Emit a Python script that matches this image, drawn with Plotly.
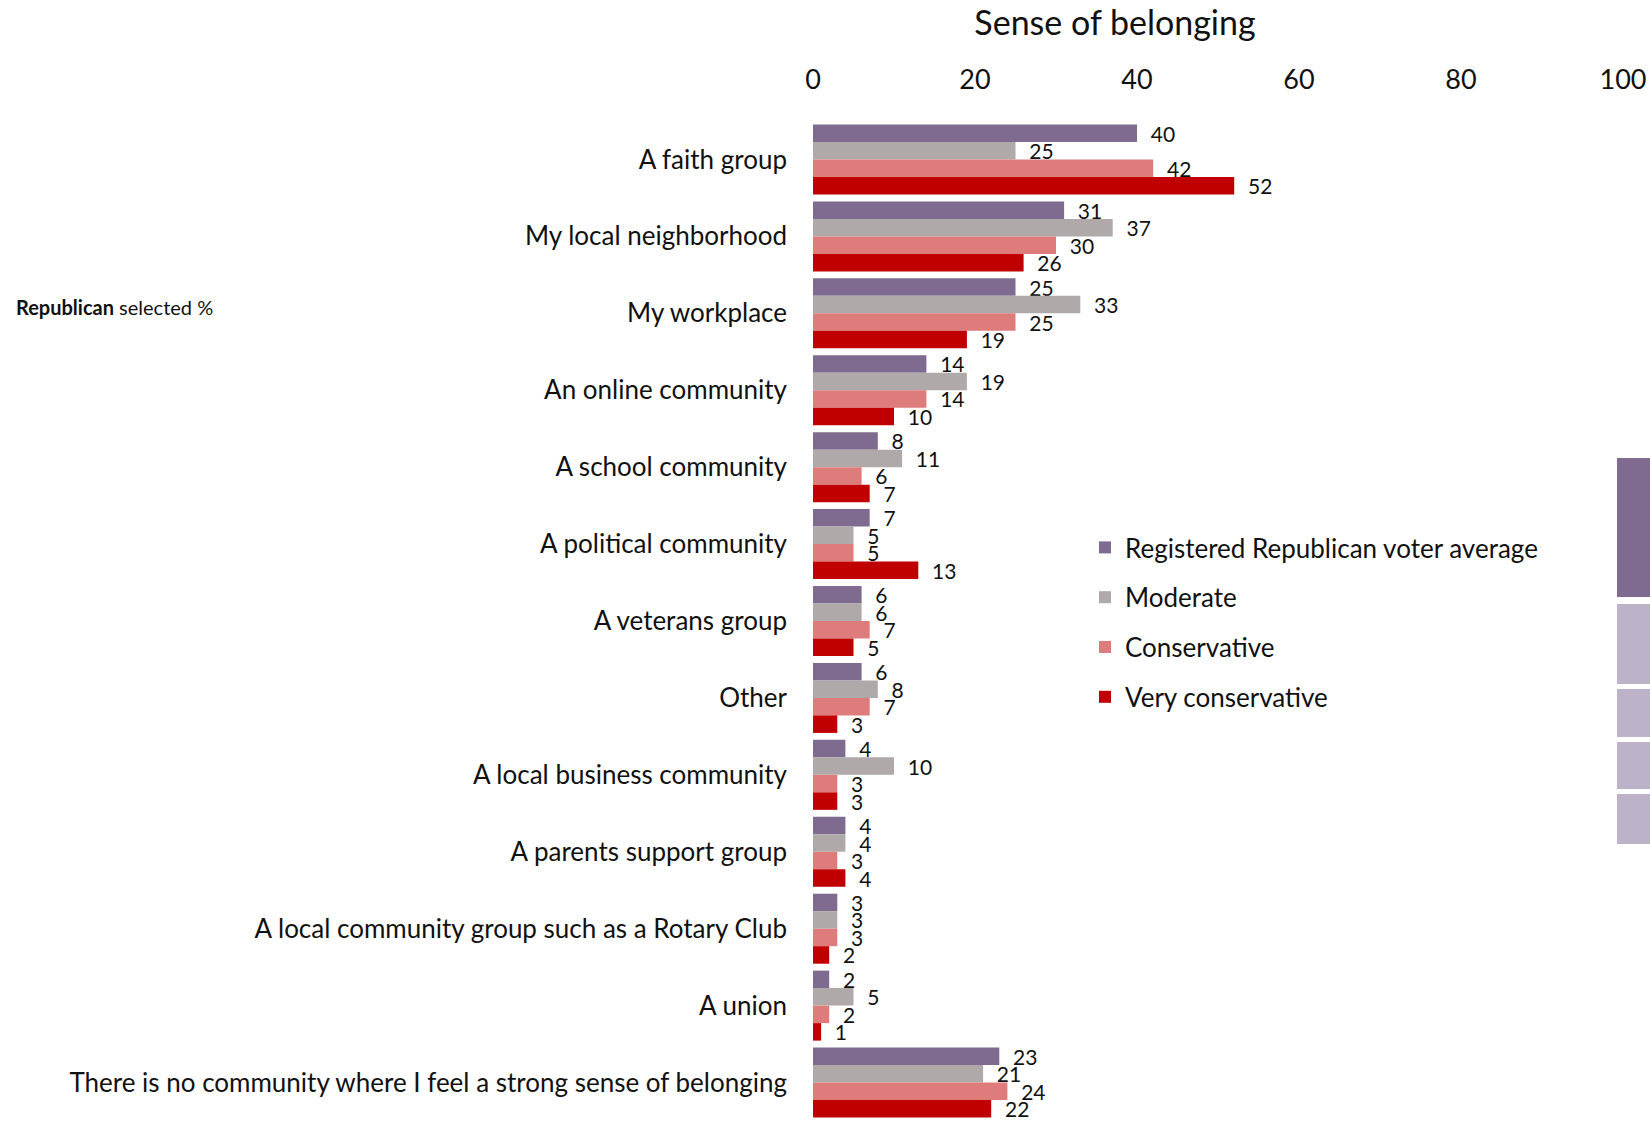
import plotly.graph_objects as go

categories = [
    "A faith group",
    "My local neighborhood",
    "My workplace",
    "An online community",
    "A school community",
    "A political community",
    "A veterans group",
    "Other",
    "A local business community",
    "A parents support group",
    "A local community group such as a Rotary Club",
    "A union",
    "There is no community where I feel a strong sense of belonging",
]

registered_avg = [40, 31, 25, 14, 8, 7, 6, 6, 4, 4, 3, 2, 23]
moderate = [25, 37, 33, 19, 11, 5, 6, 8, 10, 4, 3, 5, 21]
conservative = [42, 30, 25, 14, 6, 5, 7, 7, 3, 3, 3, 2, 24]
very_conservative = [52, 26, 19, 10, 7, 13, 5, 3, 3, 4, 2, 1, 22]

series_names = [
    "Registered Republican voter average",
    "Moderate",
    "Conservative",
    "Very conservative",
]
series_values = [registered_avg, moderate, conservative, very_conservative]
series_colors = ["#7f6b8f", "#afaaa9", "#de7c7c", "#c00000"]

x_ticks = [0, 20, 40, 60, 80, 100]

FONT = "Lato"

fig = go.Figure()
for name, vals, col in zip(series_names, series_values, series_colors):
    fig.add_trace(go.Bar(
        name=name,
        y=categories,
        x=vals,
        orientation="h",
        marker=dict(color=col, line=dict(width=0)),
        text=vals,
        texttemplate="\u00a0\u00a0%{text}",
        textposition="outside",
        constraintext="none",
        cliponaxis=False,
        textfont=dict(family=FONT, size=21, color="#111111"),
        legendgroup=name,
        hoverinfo="skip",
    ))

W, H = 1650, 1121
L, T, PW = 813, 121, 810
PH = H - T


def px_to_paper_x(px):
    return (px - L) / PW


def px_to_paper_y(py):
    return 1 - (py - T) / PH


# partial table on the right edge (cropped in the original)
shapes = []
blocks = [(458, 597, "#7f6b8f"), (604, 684, "#bcb3c8"), (689, 737, "#bcb3c8"),
          (742, 789, "#bcb3c8"), (794, 844, "#bcb3c8")]
for y0, y1, c in blocks:
    shapes.append(dict(type="rect", xref="paper", yref="paper",
                       x0=px_to_paper_x(1617), x1=px_to_paper_x(1680),
                       y0=px_to_paper_y(y1), y1=px_to_paper_y(y0),
                       fillcolor=c, line=dict(width=0), layer="above"))

fig.update_layout(
    width=W,
    height=H,
    margin=dict(l=L, r=W - L - PW, t=T, b=0, autoexpand=False),
    paper_bgcolor="white",
    plot_bgcolor="white",
    barmode="group",
    bargap=0.09,
    bargroupgap=0,
    font=dict(family=FONT, color="#111111"),
    title=dict(text="Sense of belonging", x=1115 / W, xref="container",
               xanchor="center", y=1 - 23 / H, yref="container", yanchor="middle",
               font=dict(family=FONT, size=34, color="#111111")),
    xaxis=dict(
        side="top",
        range=[0, 100],
        tickvals=x_ticks,
        ticktext=[str(t) for t in x_ticks],
        showgrid=False,
        zeroline=False,
        showline=False,
        ticks="",
        ticklabelstandoff=26,
        tickfont=dict(family=FONT, size=27, color="#111111"),
    ),
    yaxis=dict(
        autorange="reversed",
        showgrid=False,
        zeroline=False,
        showline=False,
        ticks="",
        ticklabelstandoff=25,
        tickfont=dict(family=FONT, size=26, color="#111111"),
    ),
    legend=dict(
        x=px_to_paper_x(1085), xanchor="left",
        y=px_to_paper_y(524), yanchor="top",
        font=dict(family=FONT, size=26, color="#111111"),
        tracegroupgap=13,
        bgcolor="rgba(0,0,0,0)",
        itemwidth=30,
    ),
    shapes=shapes,
    annotations=[
        dict(text="<b>Republican</b> selected %", xref="paper", yref="paper",
             x=px_to_paper_x(14), xanchor="left", y=px_to_paper_y(307), yanchor="middle",
             showarrow=False, font=dict(family=FONT, size=20, color="#111111")),
    ],
)

fig.write_html(
    "out.html",
    config={"displayModeBar": False},
    post_script="document.body.style.margin='0';document.body.style.overflow='hidden';",
)
